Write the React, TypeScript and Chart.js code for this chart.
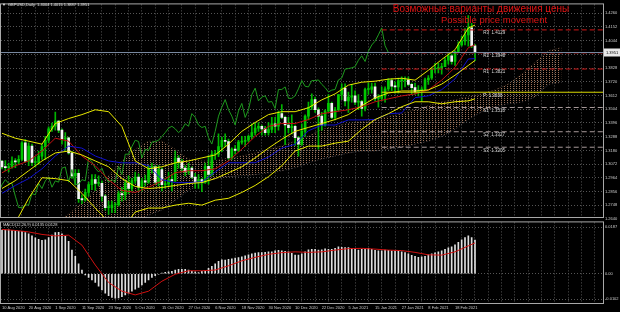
import React, { useEffect, useRef } from "react";
import { Chart, registerables } from "chart.js";

Chart.register(...registerables);

const FONT = "Liberation Sans";
const symbolTitle = "GBPUSD,Daily  1.4004 1.4015 1.3887 1.3951";
const headlineRu = "Возможные варианты движения цены";
const headlineEn = "Possible price movement";
const macdTitle = "MACD(12,26,9) 0.0135 0.0128";

const dateLabels = [
  "10 Aug 2020", "20 Aug 2020", "1 Sep 2020", "11 Sep 2020", "23 Sep 2020", "5 Oct 2020",
  "15 Oct 2020", "27 Oct 2020", "6 Nov 2020", "18 Nov 2020", "30 Nov 2020", "10 Dec 2020",
  "22 Dec 2020", "5 Jan 2021", "15 Jan 2021", "27 Jan 2021", "8 Feb 2021", "18 Feb 2021",
];

const opens = [
  1.3095, 1.3050, 1.3045, 1.3050, 1.3095, 1.3090, 1.3110, 1.3240, 1.3095, 1.3215,
  1.3085, 1.3085, 1.3135, 1.3210, 1.3260, 1.3350, 1.3370, 1.3410, 1.3340, 1.3270,
  1.3280, 1.3160, 1.2980, 1.3000, 1.2800, 1.2790, 1.2850, 1.2910, 1.2950, 1.2920,
  1.2920, 1.2820, 1.2730, 1.2730, 1.2750, 1.2750, 1.2840, 1.2830, 1.2920, 1.2880,
  1.2940, 1.2970, 1.2890, 1.2940, 1.2930, 1.3040, 1.3050, 1.2930, 1.3030, 1.2910,
  1.2915, 1.2950, 1.2940, 1.3120, 1.3090, 1.3040, 1.3010, 1.3040, 1.2970, 1.2930,
  1.2950, 1.2930, 1.3055, 1.2990, 1.3150, 1.3150, 1.3210, 1.3260, 1.3250, 1.3120,
  1.3190, 1.3180, 1.3245, 1.3250, 1.3260, 1.3290, 1.3320, 1.3355, 1.3370, 1.3350,
  1.3320, 1.3345, 1.3390, 1.3370, 1.3470, 1.3440, 1.3380, 1.3360, 1.3370, 1.3280,
  1.3230, 1.3330, 1.3450, 1.3520, 1.3580, 1.3500, 1.3450, 1.3380, 1.3490, 1.3550,
  1.3440, 1.3500, 1.3620, 1.3670, 1.3570, 1.3600, 1.3610, 1.3560, 1.3565, 1.3510,
  1.3660, 1.3660, 1.3680, 1.3590, 1.3590, 1.3610, 1.3665, 1.3730, 1.3685, 1.3680,
  1.3730, 1.3730, 1.3735, 1.3700, 1.3675, 1.3640, 1.3655, 1.3660, 1.3735, 1.3750,
  1.3820, 1.3825, 1.3830, 1.3840, 1.3890, 1.3925, 1.3880, 1.3960, 1.4010, 1.4040,
  1.4090, 1.4145, 1.4004,
];
const highs = [
  1.3100, 1.3100, 1.3080, 1.3130, 1.3115, 1.3140, 1.3250, 1.3265, 1.3240, 1.3230,
  1.3130, 1.3175, 1.3230, 1.3290, 1.3365, 1.3395, 1.3482, 1.3415, 1.3350, 1.3320,
  1.3285, 1.3170, 1.3030, 1.3030, 1.2830, 1.2875, 1.2930, 1.2990, 1.2990, 1.2980,
  1.2940, 1.2830, 1.2780, 1.2780, 1.2770, 1.2860, 1.2890, 1.2950, 1.2980, 1.2960,
  1.3010, 1.2995, 1.2960, 1.2985, 1.3060, 1.3080, 1.3060, 1.3060, 1.3040, 1.2960,
  1.3010, 1.2995, 1.3175, 1.3140, 1.3110, 1.3060, 1.3080, 1.3050, 1.3000, 1.2990,
  1.2960, 1.3080, 1.3140, 1.3175, 1.3180, 1.3310, 1.3285, 1.3310, 1.3270, 1.3200,
  1.3220, 1.3260, 1.3290, 1.3290, 1.3300, 1.3390, 1.3400, 1.3400, 1.3380, 1.3370,
  1.3400, 1.3440, 1.3440, 1.3490, 1.3540, 1.3450, 1.3440, 1.3460, 1.3380, 1.3290,
  1.3390, 1.3460, 1.3560, 1.3625, 1.3600, 1.3515, 1.3480, 1.3500, 1.3620, 1.3560,
  1.3520, 1.3620, 1.3705, 1.3705, 1.3640, 1.3700, 1.3650, 1.3620, 1.3575, 1.3670,
  1.3710, 1.3710, 1.3710, 1.3620, 1.3680, 1.3680, 1.3745, 1.3745, 1.3720, 1.3750,
  1.3760, 1.3760, 1.3760, 1.3710, 1.3710, 1.3690, 1.3680, 1.3750, 1.3770, 1.3830,
  1.3865, 1.3865, 1.3865, 1.3910, 1.3950, 1.3940, 1.3965, 1.4035, 1.4080, 1.4140,
  1.4241, 1.4180, 1.4015,
];
const lows = [
  1.3035, 1.3020, 1.3010, 1.3040, 1.3045, 1.3070, 1.3100, 1.3090, 1.3060, 1.3060,
  1.3050, 1.3070, 1.3110, 1.3110, 1.3240, 1.3330, 1.3340, 1.3320, 1.3230, 1.3180,
  1.3150, 1.2960, 1.2910, 1.2770, 1.2760, 1.2780, 1.2820, 1.2870, 1.2865, 1.2900,
  1.2780, 1.2710, 1.2676, 1.2690, 1.2690, 1.2740, 1.2780, 1.2790, 1.2840, 1.2860,
  1.2920, 1.2860, 1.2860, 1.2900, 1.2920, 1.3000, 1.2910, 1.2900, 1.2860, 1.2880,
  1.2900, 1.2860, 1.2935, 1.3040, 1.3010, 1.2980, 1.2990, 1.2960, 1.2880, 1.2880,
  1.2855, 1.2920, 1.2915, 1.2980, 1.3110, 1.3130, 1.3170, 1.3210, 1.3110, 1.3110,
  1.3150, 1.3170, 1.3230, 1.3210, 1.3245, 1.3270, 1.3300, 1.3330, 1.3300, 1.3300,
  1.3300, 1.3320, 1.3320, 1.3340, 1.3430, 1.3225, 1.3320, 1.3310, 1.3220, 1.3135,
  1.3220, 1.3290, 1.3420, 1.3500, 1.3480, 1.3190, 1.3340, 1.3370, 1.3480, 1.3430,
  1.3420, 1.3490, 1.3580, 1.3530, 1.3480, 1.3560, 1.3540, 1.3500, 1.3450, 1.3490,
  1.3620, 1.3630, 1.3570, 1.3520, 1.3570, 1.3560, 1.3650, 1.3650, 1.3630, 1.3630,
  1.3660, 1.3680, 1.3690, 1.3620, 1.3620, 1.3610, 1.3565, 1.3650, 1.3700, 1.3740,
  1.3790, 1.3790, 1.3780, 1.3840, 1.3860, 1.3860, 1.3850, 1.3950, 1.4000, 1.4010,
  1.4000, 1.3990, 1.3887,
];
const closes = [
  1.3050, 1.3045, 1.3050, 1.3095, 1.3090, 1.3110, 1.3240, 1.3095, 1.3215, 1.3085,
  1.3085, 1.3135, 1.3210, 1.3260, 1.3350, 1.3370, 1.3410, 1.3340, 1.3270, 1.3280,
  1.3160, 1.2980, 1.3000, 1.2800, 1.2790, 1.2850, 1.2910, 1.2950, 1.2920, 1.2920,
  1.2820, 1.2730, 1.2730, 1.2750, 1.2750, 1.2840, 1.2830, 1.2920, 1.2880, 1.2940,
  1.2970, 1.2890, 1.2940, 1.2930, 1.3040, 1.3050, 1.2930, 1.3030, 1.2910, 1.2915,
  1.2950, 1.2940, 1.3120, 1.3090, 1.3040, 1.3010, 1.3040, 1.2970, 1.2930, 1.2950,
  1.2930, 1.3055, 1.2990, 1.3150, 1.3150, 1.3210, 1.3260, 1.3250, 1.3120, 1.3190,
  1.3180, 1.3245, 1.3250, 1.3260, 1.3290, 1.3320, 1.3355, 1.3370, 1.3350, 1.3320,
  1.3345, 1.3390, 1.3370, 1.3470, 1.3440, 1.3380, 1.3360, 1.3370, 1.3280, 1.3230,
  1.3330, 1.3450, 1.3520, 1.3580, 1.3500, 1.3450, 1.3380, 1.3490, 1.3550, 1.3440,
  1.3500, 1.3620, 1.3670, 1.3570, 1.3600, 1.3610, 1.3560, 1.3565, 1.3510, 1.3660,
  1.3660, 1.3680, 1.3590, 1.3590, 1.3610, 1.3665, 1.3730, 1.3685, 1.3680, 1.3730,
  1.3730, 1.3735, 1.3700, 1.3675, 1.3640, 1.3655, 1.3660, 1.3735, 1.3750, 1.3820,
  1.3825, 1.3830, 1.3840, 1.3890, 1.3925, 1.3880, 1.3960, 1.4010, 1.4040, 1.4090,
  1.4145, 1.4004, 1.3951,
];

const priceLabels = [
  "1.4260", "1.4152", "1.4044", "1.3936", "1.3828", "1.3720", "1.3612", "1.3504",
  "1.3396", "1.3288", "1.3180", "1.3072", "1.2964", "1.2856", "1.2748", "1.2640",
];
const lastPriceLabel = "1.3951";

const pivotNames = ["R3", "R2", "R1", "P", "S1", "S2", "S3"];
const pivotValues = [1.4129, 1.3948, 1.3821, 1.3638, 1.3518, 1.3327, 1.3205];
const pivotStartBar = 114;
const pivotLabelBar = 144.5;

// indicator samples (every 4th bar + last bar)
const indBars = [0, 4, 8, 12, 16, 20, 24, 28, 32, 36, 40, 44, 48, 52, 56, 60, 64, 68, 72, 76, 80, 84, 88, 92, 96, 100, 104, 108, 112, 116, 120, 124, 128, 132, 136, 140, 142];
const bbUpper = [1.3315, 1.3276, 1.3253, 1.3229, 1.3392, 1.3431, 1.3462, 1.3500, 1.3485, 1.3369, 1.3097, 1.3035, 1.3051, 1.3082, 1.3097, 1.3121, 1.3144, 1.3229, 1.3330, 1.3400, 1.3462, 1.3485, 1.3485, 1.3516, 1.3578, 1.3625, 1.3694, 1.3717, 1.3725, 1.3741, 1.3748, 1.3733, 1.3811, 1.3896, 1.3973, 1.4144, 1.4167];
const bbMiddle = [1.2880, 1.2942, 1.3020, 1.3097, 1.3160, 1.3175, 1.3144, 1.3097, 1.3051, 1.2958, 1.2896, 1.2880, 1.2888, 1.2904, 1.2919, 1.2927, 1.2958, 1.3004, 1.3051, 1.3121, 1.3198, 1.3268, 1.3330, 1.3361, 1.3392, 1.3423, 1.3462, 1.3532, 1.3594, 1.3632, 1.3648, 1.3648, 1.3656, 1.3702, 1.3772, 1.3849, 1.3888];
const bbLower = [1.2400, 1.2609, 1.2803, 1.2965, 1.2958, 1.2942, 1.2842, 1.2726, 1.2617, 1.2555, 1.2695, 1.2726, 1.2726, 1.2749, 1.2764, 1.2749, 1.2788, 1.2803, 1.2849, 1.2904, 1.2973, 1.3059, 1.3175, 1.3214, 1.3214, 1.3237, 1.3253, 1.3346, 1.3423, 1.3469, 1.3524, 1.3563, 1.3563, 1.3547, 1.3563, 1.3570, 1.3586];
const tenkan = [1.3004, 1.3059, 1.3097, 1.3175, 1.3276, 1.3253, 1.3136, 1.3059, 1.2950, 1.2865, 1.2849, 1.2890, 1.2940, 1.3004, 1.3020, 1.3020, 1.3035, 1.3097, 1.3190, 1.3291, 1.3369, 1.3392, 1.3392, 1.3423, 1.3469, 1.3485, 1.3500, 1.3524, 1.3563, 1.3586, 1.3609, 1.3625, 1.3656, 1.3733, 1.3834, 1.3989, 1.4012];
const kijun = [1.2842, 1.2904, 1.2958, 1.3035, 1.3136, 1.3214, 1.3198, 1.3136, 1.3097, 1.3082, 1.3082, 1.3060, 1.2950, 1.2926, 1.2926, 1.2933, 1.3010, 1.3083, 1.3083, 1.3083, 1.3128, 1.3198, 1.3228, 1.3335, 1.3380, 1.3380, 1.3420, 1.3420, 1.3423, 1.3468, 1.3475, 1.3595, 1.3610, 1.3658, 1.3743, 1.3900, 1.3903];

const cloudBars = [0, 4, 8, 12, 16, 20, 24, 28, 32, 36, 40, 44, 48, 52, 56, 60, 64, 68, 72, 76, 80, 84, 88, 92, 96, 100, 104, 108, 112, 116, 120, 124, 128, 132, 136, 140, 144, 148, 152, 156, 160, 164, 168];
const spanA = [1.2450, 1.2480, 1.2520, 1.2560, 1.2600, 1.2680, 1.2764, 1.2865, 1.2981, 1.3097, 1.3190, 1.3253, 1.3253, 1.3190, 1.3113, 1.3097, 1.3097, 1.3121, 1.3136, 1.3160, 1.3190, 1.3214, 1.3253, 1.3291, 1.3346, 1.3369, 1.3392, 1.3407, 1.3423, 1.3446, 1.3469, 1.3500, 1.3532, 1.3563, 1.3578, 1.3601, 1.3625, 1.3656, 1.3702, 1.3779, 1.3872, 1.3965, 1.3989];
const spanB = [1.2400, 1.2400, 1.2420, 1.2440, 1.2460, 1.2500, 1.2520, 1.2540, 1.2560, 1.2580, 1.2600, 1.2671, 1.2710, 1.2788, 1.2865, 1.2919, 1.2958, 1.2973, 1.2981, 1.2989, 1.3004, 1.3020, 1.3043, 1.3082, 1.3113, 1.3136, 1.3160, 1.3175, 1.3175, 1.3190, 1.3206, 1.3229, 1.3253, 1.3291, 1.3346, 1.3423, 1.3485, 1.3524, 1.3547, 1.3560, 1.3600, 1.3700, 1.3716];
const chikouShift = 26;

// MACD main (x 0.0001), one per bar
const macdMain = [
  175, 176, 176, 174, 172, 170, 170, 165, 160, 152,
  144, 138, 134, 136, 145, 155, 165, 166, 160, 150,
  130, 95, 70, 40, 15, -5, -15, -25, -35, -50,
  -65, -78, -88, -95, -98, -97, -92, -85, -78, -70,
  -62, -55, -45, -35, -25, -15, -8, -2, 3, 6,
  8, 10, 15, 18, 18, 18, 15, 10, 8, 5,
  10, 12, 22, 30, 40, 50, 56, 55, 58, 60,
  63, 65, 68, 72, 76, 80, 83, 85, 85, 86,
  88, 88, 92, 94, 92, 90, 88, 82, 75, 75,
  80, 88, 96, 98, 98, 95, 96, 100, 98, 98,
  102, 108, 106, 105, 105, 102, 100, 95, 98, 100,
  102, 98, 94, 92, 92, 95, 94, 92, 92, 90,
  88, 85, 80, 74, 70, 66, 68, 70, 76, 80,
  84, 88, 92, 98, 104, 108, 116, 126, 136, 145,
  152, 145, 135,
];
const macdSignal = [178, 174, 168, 158, 152, 155, 115, 35, -35, -70, -85, -70, -30, -2, 12, 12, 15, 32, 52, 66, 78, 85, 88, 86, 88, 95, 101, 102, 99, 95, 93, 86, 76, 75, 88, 112, 124];
const macdTickValues = [0.0187, 0, -0.0102];
const macdTickLabels = ["0.0187", "0.00", "-0.0102"];

const X_MIN = -0.3;
const X_MAX = 180.43;
const P_MAX = 1.43298;
const P_MIN = 1.26556;
const M_MAX = 0.02063;
const M_MIN = -0.01175;
const GRID = "#555555";
const TXT = "#cccccc";
const gridBars: number[] = [];
for (let g = 0; g <= 180; g += 4) gridBars.push(g);

function makePattern(color: string, w: number, h: number) {
  const c = document.createElement("canvas");
  c.width = w;
  c.height = h;
  const g = c.getContext("2d")!;
  g.fillStyle = color;
  g.fillRect(0, 0, 1, 1);
  return g.createPattern(c, "repeat")!;
}

export default function App() {
  const mainRef = useRef<HTMLCanvasElement>(null);
  const macdRef = useRef<HTMLCanvasElement>(null);

  useEffect(() => {
    document.body.style.margin = "0";
    document.body.style.background = "#000";
    const bars = closes.map((_, i) => i);
    const patUp = makePattern("#9c7258", 3, 2);
    const patDn = makePattern("#8c808c", 3, 2);

    const overlay = {
      id: "overlay",
      afterDraw(chart: any) {
        const { ctx, chartArea: a, scales } = chart;
        const x = scales.x;
        const y = scales.y;
        ctx.save();
        ctx.strokeStyle = "#a8a8a8";
        ctx.lineWidth = 1;
        ctx.strokeRect(a.left - 0.5, a.top - 0.5, a.right - a.left + 1, a.bottom - a.top + 1);
        ctx.textBaseline = "middle";
        ctx.fillStyle = "#e0e0e0";
        ctx.font = `4px "${FONT}"`;
        ctx.fillText("▼", 2, 5);
        ctx.fillText(symbolTitle, 8, 5);
        ctx.fillStyle = "#e01414";
        ctx.font = `10px "${FONT}"`;
        ctx.textAlign = "center";
        ctx.fillText(headlineRu, 481, 9);
        ctx.font = `9.5px "${FONT}"`;
        ctx.fillText(headlineEn, 494, 20);
        ctx.textAlign = "left";
        ctx.textBaseline = "top";
        ctx.font = `4.5px "${FONT}"`;
        ctx.fillStyle = "#d8d8d8";
        pivotNames.forEach((n, k) => {
          ctx.fillText(`${n}  ${pivotValues[k].toFixed(4)}`, x.getPixelForValue(pivotLabelBar), y.getPixelForValue(pivotValues[k]) + 1);
        });
        const py = y.getPixelForValue(closes[closes.length - 1]);
        ctx.fillStyle = "#e8e8e8";
        ctx.fillRect(a.right + 1, py - 4, 16, 8);
        ctx.fillStyle = "#000";
        ctx.textBaseline = "middle";
        ctx.font = `4px "${FONT}"`;
        ctx.fillText(lastPriceLabel, a.right + 3, py);
        ctx.restore();
      },
    };

    const pivotColors = ["#d01818", "#d01818", "#d01818", "#d8d800", "#a89a9a", "#a89a9a", "#a89a9a"];
    const pivotSets = pivotValues.map((v, k) => ({
      type: "line",
      data: [{ x: pivotStartBar, y: v }, { x: X_MAX, y: v }],
      borderColor: pivotColors[k],
      borderWidth: 1,
      borderDash: k === 3 ? [] : [5, 3],
      pointRadius: 0,
      order: 1,
    }));
    const line = (xs: number[], ys: number[], color: string, order = 2, extra: any = {}) => ({
      type: "line",
      data: xs.map((b, k) => ({ x: b, y: ys[k] })),
      borderColor: color,
      borderWidth: 1,
      pointRadius: 0,
      tension: 0,
      order,
      ...extra,
    });

    const main = new Chart(mainRef.current!, {
      type: "bar",
      data: {
        datasets: [
          line(cloudBars, spanA, "rgba(180,130,100,0.45)", 20, {
            fill: { target: "+1", above: patUp, below: patDn },
            borderDash: [1, 2],
          }),
          line(cloudBars, spanB, "rgba(160,150,160,0.45)", 20, { borderDash: [1, 2] }),
          {
            type: "bar",
            data: bars.map((i) => ({ x: i, y: [lows[i], highs[i]] })),
            backgroundColor: "#00b400",
            barThickness: 1,
            grouped: false,
            order: 6,
          },
          {
            type: "bar",
            data: bars.filter((i) => closes[i] >= opens[i]).map((i) => ({ x: i, y: [opens[i], closes[i]] })),
            backgroundColor: "#00c800",
            barThickness: 2,
            minBarLength: 1,
            grouped: false,
            order: 5,
          },
          {
            type: "bar",
            data: bars.filter((i) => closes[i] < opens[i]).map((i) => ({ x: i, y: [opens[i], closes[i]] })),
            backgroundColor: "#f4f4f4",
            barThickness: 2,
            minBarLength: 1,
            grouped: false,
            order: 5,
          },
          line(bars.map((i) => i - chikouShift), closes, "#1e9a1e", 3),
          line(indBars, kijun, "#1010d0", 2),
          line(indBars, tenkan, "#c01010", 2),
          line(indBars, bbLower, "#e8e800", 1),
          line(indBars, bbMiddle, "#e8e800", 1),
          line(indBars, bbUpper, "#e8e800", 1),
          line([X_MIN, X_MAX], [closes[closes.length - 1], closes[closes.length - 1]], "#7888a0", 1),
          ...pivotSets,
        ] as any,
      },
      options: {
        animation: false,
        responsive: false,
        devicePixelRatio: 1,
        layout: { padding: { left: 1, top: 1, right: 0, bottom: 7 } },
        plugins: { legend: { display: false }, tooltip: { enabled: false } },
        scales: {
          x: {
            type: "linear",
            min: X_MIN,
            max: X_MAX,
            offset: false,
            afterBuildTicks: (s: any) => { s.ticks = gridBars.map((v) => ({ value: v })); },
            ticks: { display: false },
            grid: { color: GRID, drawTicks: false, lineWidth: 1 },
            border: { display: false, dash: [1, 2] },
            afterFit: (s: any) => { s.height = 0; },
          },
          y: {
            position: "right",
            min: P_MIN,
            max: P_MAX,
            afterBuildTicks: (s: any) => { s.ticks = priceLabels.map((t) => ({ value: parseFloat(t) })); },
            ticks: {
              callback: (_v: any, i: number) => priceLabels[i],
              color: TXT,
              font: { size: 4, family: FONT },
              padding: 2,
              autoSkip: false,
            },
            grid: {
              color: (c: any) => (c.tick && c.tick.value < P_MIN ? "rgba(0,0,0,0)" : GRID),
              drawTicks: false,
            },
            border: { display: false, dash: [1, 2] },
            afterFit: (s: any) => { s.width = 17; },
          },
        },
      } as any,
      plugins: [overlay],
    });

    const macdOverlay = {
      id: "macdOverlay",
      afterDraw(chart: any) {
        const { ctx, chartArea: a } = chart;
        ctx.save();
        ctx.strokeStyle = "#a8a8a8";
        ctx.lineWidth = 1;
        ctx.strokeRect(a.left - 0.5, a.top - 0.5, a.right - a.left + 1, a.bottom - a.top + 1);
        ctx.fillStyle = "#d8d8d8";
        ctx.font = `4px "${FONT}"`;
        ctx.textBaseline = "middle";
        ctx.fillText(macdTitle, 3, 7);
        ctx.restore();
      },
    };

    const macd = new Chart(macdRef.current!, {
      type: "bar",
      data: {
        datasets: [
          {
            type: "bar",
            data: bars.map((i) => ({ x: i, y: macdMain[i] / 10000 })),
            backgroundColor: "#e0e0e0",
            barThickness: 1,
            grouped: false,
            order: 2,
          },
          {
            type: "line",
            data: indBars.map((b, k) => ({ x: b, y: macdSignal[k] / 10000 })),
            borderColor: "#d01010",
            borderWidth: 1,
            pointRadius: 0,
            order: 1,
          },
        ] as any,
      },
      options: {
        animation: false,
        responsive: false,
        devicePixelRatio: 1,
        layout: { padding: { left: 1, top: 1, right: 0, bottom: 0 } },
        plugins: { legend: { display: false }, tooltip: { enabled: false } },
        scales: {
          x: {
            type: "linear",
            min: X_MIN,
            max: X_MAX,
            offset: false,
            afterBuildTicks: (s: any) => { s.ticks = gridBars.map((v) => ({ value: v })); },
            ticks: {
              callback: (v: number) => (v % 8 === 0 && v / 8 < dateLabels.length ? dateLabels[v / 8] : ""),
              align: "start",
              color: TXT,
              font: { size: 4, family: FONT },
              padding: 2,
              autoSkip: false,
              maxRotation: 0,
              minRotation: 0,
            },
            grid: { color: GRID, drawTicks: false },
            border: { display: false, dash: [1, 2] },
            afterFit: (s: any) => { s.height = 9; },
          },
          y: {
            position: "right",
            min: M_MIN,
            max: M_MAX,
            afterBuildTicks: (s: any) => { s.ticks = macdTickValues.map((v) => ({ value: v })); },
            ticks: {
              callback: (_v: any, i: number) => macdTickLabels[i],
              color: TXT,
              font: { size: 4, family: FONT },
              padding: 2,
              autoSkip: false,
            },
            grid: { color: GRID, drawTicks: false },
            border: { display: false, dash: [1, 2] },
            afterFit: (s: any) => { s.width = 17; },
          },
        },
      } as any,
      plugins: [macdOverlay],
    });

    return () => {
      main.destroy();
      macd.destroy();
    };
  }, []);

  return (
    <div style={{ position: "absolute", left: 0, top: 0, width: 620, height: 312, background: "#000", overflow: "hidden" }}>
      <canvas ref={macdRef} width={620} height={94} style={{ position: "absolute", left: 0, top: 218, width: 620, height: 94 }} />
      <canvas ref={mainRef} width={620} height={224} style={{ position: "absolute", left: 0, top: 0, width: 620, height: 224 }} />
    </div>
  );
}
